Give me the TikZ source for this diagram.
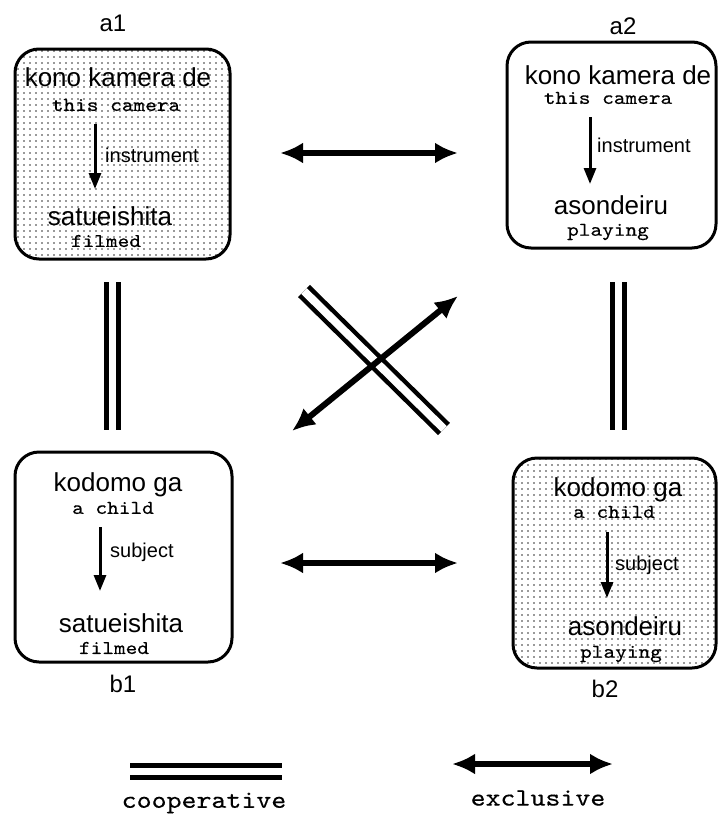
\documentclass[tikz,border=0pt]{standalone}
\usepackage{fontspec}
\setmainfont{Liberation Sans}
\setmonofont{lmmono10-regular.otf}[FakeBold=0.4,FakeStretch=1.14]
\usetikzlibrary{arrows.meta,patterns.meta}
\tikzset{
  box/.style={draw, line width=3pt, rounded corners=24pt, inner sep=0pt},
  shaded/.style={pattern={Dots[distance=6pt,radius=0.8pt]}, pattern color=black!80},
  jp/.style={font=\fontsize{26}{30}\selectfont, inner sep=0pt},
  gl/.style={font=\ttfamily\fontsize{19.5}{22}\selectfont, inner sep=0pt},
  rel/.style={font=\fontsize{20}{24}\selectfont, inner sep=0pt, anchor=west},
  lab/.style={font=\fontsize{24}{28}\selectfont, inner sep=0pt},
  legend/.style={font=\ttfamily\fontsize{25}{28}\selectfont, inner sep=0pt},
  innerarrow/.style={line width=3pt, -{Triangle[length=16pt,width=12pt]}},
  excl/.style={line width=6pt, {Latex[length=23pt,width=21pt]}-{Latex[length=23pt,width=21pt]}},
  coop/.style={double, double distance=7pt, line width=5pt},
}
\begin{document}
\begin{tikzpicture}[x=1pt, y=-1pt]
\useasboundingbox (0,0) rectangle (719,819);

% boxes
\node[box, shaded, minimum width=215pt, minimum height=210pt] (A1) at (122.5,154) {};
\node[box, minimum width=209pt, minimum height=206pt] (A2) at (611.5,145) {};
\node[box, minimum width=217pt, minimum height=210pt] (B1) at (123.5,557) {};
\node[box, shaded, minimum width=203pt, minimum height=210pt] (B2) at (614.5,563) {};

% box labels
\node[lab] (la1) at (113,23) {a1};
\node[lab] (la2) at (623,26) {a2};
\node[lab] (lb1) at (123,684) {b1};
\node[lab] (lb2) at (605,689) {b2};

% a1 content
\node[jp] (a1w) at (118,77) {kono kamera de};
\node[gl] (a1g) at (116,105) {this camera};
\coordinate (a1s) at (95,124);
\coordinate (a1e) at (95,189);
\draw[innerarrow] (a1s) -- (a1e);
\node[rel] (a1r) at (105,155) {instrument};
\node[jp] (a1v) at (110,216) {satueishita};
\node[gl] (a1t) at (106,241) {filmed};

% a2 content
\node[jp] (a2w) at (618,75) {kono kamera de};
\node[gl] (a2g) at (608,98) {this camera};
\coordinate (a2s) at (590,117);
\coordinate (a2e) at (590,184);
\draw[innerarrow] (a2s) -- (a2e);
\node[rel] (a2r) at (597,145) {instrument};
\node[jp] (a2v) at (611,205) {asondeiru};
\node[gl] (a2t) at (608,232) {playing};

% b1 content
\node[jp] (b1w) at (118,485) {kodomo ga};
\node[gl] (b1g) at (113,508) {a child};
\coordinate (b1s) at (100,527);
\coordinate (b1e) at (100,591);
\draw[innerarrow] (b1s) -- (b1e);
\node[rel] (b1r) at (110,552) {subject};
\node[jp] (b1v) at (121,623) {satueishita};
\node[gl] (b1t) at (114,648) {filmed};

% b2 content
\node[jp] (b2w) at (618,490) {kodomo ga};
\node[gl] (b2g) at (614,512) {a child};
\coordinate (b2s) at (607,532);
\coordinate (b2e) at (607,598);
\draw[innerarrow] (b2s) -- (b2e);
\node[rel] (b2r) at (615,565) {subject};
\node[jp] (b2v) at (625,626) {asondeiru};
\node[gl] (b2t) at (621,654) {playing};

% relations
\coordinate (ta) at (280,153); \coordinate (tb) at (458,153);
\draw[excl] (ta) -- (tb);
\coordinate (ba) at (280,563); \coordinate (bb) at (458,563);
\draw[excl] (ba) -- (bb);

\coordinate (lva) at (112,282); \coordinate (lvb) at (112,430);
\draw[coop] (lva) -- (lvb);
\coordinate (rva) at (618,282); \coordinate (rvb) at (618,430);
\draw[coop] (rva) -- (rvb);

\coordinate (cda) at (304,291); \coordinate (cdb) at (444,429);
\draw[coop, double distance=8pt, line width=4.5pt] (cda) -- (cdb);
\coordinate (caa) at (292,431); \coordinate (cab) at (458,296);
\draw[excl] (caa) -- (cab);

% legend
\coordinate (lg1) at (130,771); \coordinate (lg2) at (282,771);
\draw[coop] (lg1) -- (lg2);
\node[legend] (lcoop) at (204,803) {cooperative};
\coordinate (lx1) at (452,764); \coordinate (lx2) at (613,764);
\draw[excl] (lx1) -- (lx2);
\node[legend] (lexcl) at (538,798) {exclusive};
\end{tikzpicture}
\end{document}
